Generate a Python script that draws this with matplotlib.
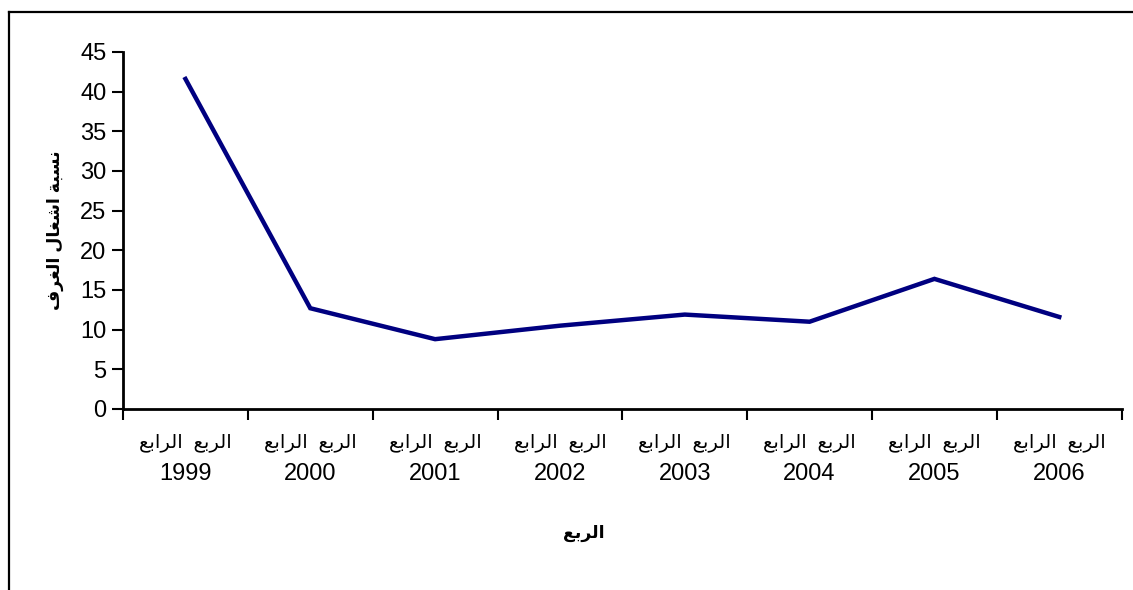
import matplotlib
matplotlib.use("Agg")
import matplotlib.pyplot as plt
from matplotlib.lines import Line2D
from matplotlib.ticker import FixedLocator

years = ["1999", "2000", "2001", "2002", "2003", "2004", "2005", "2006"]
occupancy = [41.6, 12.7, 8.8, 10.5, 11.9, 11.0, 16.4, 11.6]
quarter = "الربع  الرابع"
x_title = "الربع"
y_title = "نسبة اشغال الغرف"

# arabic presentation forms: isolated, final, initial, medial
forms = {
    "ا": ("\uFE8D", "\uFE8E", None, None),
    "ر": ("\uFEAD", "\uFEAE", None, None),
    "ة": ("\uFE93", "\uFE94", None, None),
    "ل": ("\uFEDD", "\uFEDE", "\uFEDF", "\uFEE0"),
    "ب": ("\uFE8F", "\uFE90", "\uFE91", "\uFE92"),
    "ع": ("\uFEC9", "\uFECA", "\uFECB", "\uFECC"),
    "ن": ("\uFEE5", "\uFEE6", "\uFEE7", "\uFEE8"),
    "س": ("\uFEB1", "\uFEB2", "\uFEB3", "\uFEB4"),
    "ش": ("\uFEB5", "\uFEB6", "\uFEB7", "\uFEB8"),
    "غ": ("\uFECD", "\uFECE", "\uFECF", "\uFED0"),
    "ف": ("\uFED1", "\uFED2", "\uFED3", "\uFED4"),
}


def shape(text):
    out = []
    for i, ch in enumerate(text):
        if ch not in forms:
            out.append(ch)
            continue
        prev = text[i - 1] if i > 0 else ""
        nxt = text[i + 1] if i + 1 < len(text) else ""
        joins_prev = prev in forms and forms[prev][2] is not None
        joins_next = forms[ch][2] is not None and nxt in forms
        f = forms[ch]
        if joins_prev and joins_next:
            out.append(f[3])
        elif joins_prev:
            out.append(f[1])
        elif joins_next:
            out.append(f[2])
        else:
            out.append(f[0])
    return "".join(out)[::-1]


plt.rcParams['font.family'] = ['Liberation Sans', 'DejaVu Sans']

fig = plt.figure(figsize=(11.33, 5.9), dpi=100)
ax = fig.add_axes([0.1086, 0.3068, 0.8814, 0.6051])

x = list(range(len(years)))
ax.plot(x, occupancy, color="#000080", lw=3.2, solid_joinstyle="miter")

ax.set_xlim(-0.5, len(years) - 0.5)
ax.set_ylim(0, 45)
ax.set_yticks(range(0, 46, 5))
ax.set_xticks(x)
ax.set_xticklabels([])
ax.xaxis.set_minor_locator(FixedLocator([i - 0.5 for i in range(len(years) + 1)]))
ax.tick_params(axis="x", which="major", length=0)
ax.tick_params(axis="x", which="minor", length=8, width=1.5, direction="out")
ax.tick_params(axis="y", length=8, width=1.5, labelsize=17, pad=4)

# category labels: arabic line above, year below
trans = ax.get_xaxis_transform()
for xi, yr in zip(x, years):
    ax.text(xi, -0.095, shape(quarter), transform=trans, ha="center", va="center",
            fontsize=14)
    ax.text(xi, -0.183, yr, transform=trans, ha="center", va="center", fontsize=17)

for s in ["top", "right"]:
    ax.spines[s].set_visible(False)
for s in ["left", "bottom"]:
    ax.spines[s].set_linewidth(2)

ax.set_ylabel(shape(y_title), fontsize=12.5, fontweight="bold")
ax.yaxis.set_label_coords(-0.059, 0.5)
fig.text(0.515, 1 - 533 / 590, shape(x_title), fontsize=12.5, fontweight="bold",
         ha="center", va="center")

# chart area frame (only left and top edges fall inside the picture)
fig.add_artist(Line2D([9 / 1133, 9 / 1133], [0, 1 - 11.5 / 590], color="black",
                      lw=1.6, transform=fig.transFigure))
fig.add_artist(Line2D([9 / 1133, 1], [1 - 11.5 / 590, 1 - 11.5 / 590], color="black",
                      lw=1.6, transform=fig.transFigure))

fig.savefig("out.png", dpi=100)
